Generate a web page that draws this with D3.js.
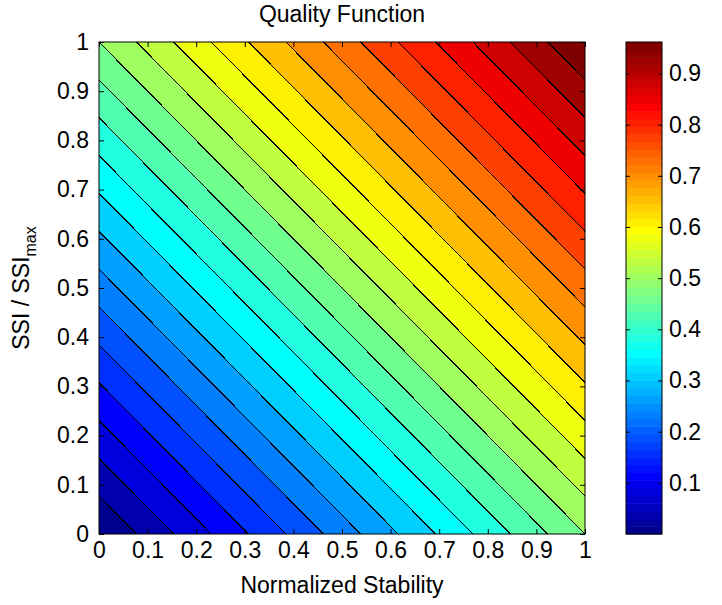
<!DOCTYPE html>
<html><head><meta charset="utf-8">
<script src="https://cdn.jsdelivr.net/npm/d3@7"></script>
<style>body{margin:0;background:#fff} text{font-family:"Liberation Sans",Arial,Helvetica,sans-serif}</style>
</head><body><svg id="chart" width="722" height="605"></svg>
<script>
// ---- data ----
const xGrid = [0, 0.5, 1];          // Normalized Stability samples
const yGrid = [0, 0.5, 1];          // SSI / SSImax samples
const qualityGrid = [               // rows: y = 0, 0.5, 1 ; cols: x = 0, 0.5, 1
  [0.00, 0.25, 0.50],
  [0.25, 0.50, 0.75],
  [0.50, 0.75, 1.00]
];
const contourLevels = [0.0385, 0.0769, 0.1154, 0.1538, 0.1923, 0.2308, 0.2692, 0.3077,
  0.3462, 0.3846, 0.4231, 0.4615, 0.5000, 0.5385, 0.5769, 0.6154, 0.6538, 0.6923,
  0.7308, 0.7692, 0.8077, 0.8462, 0.8846, 0.9231, 0.9615];
const colorLimits = [0, 0.9615];
const xTicks = [0, 0.1, 0.2, 0.3, 0.4, 0.5, 0.6, 0.7, 0.8, 0.9, 1];
const yTicks = [0, 0.1, 0.2, 0.3, 0.4, 0.5, 0.6, 0.7, 0.8, 0.9, 1];
const colorbarTicks = [0.1, 0.2, 0.3, 0.4, 0.5, 0.6, 0.7, 0.8, 0.9];
const titleText = "Quality Function";
const xLabelText = "Normalized Stability";

// ---- jet(64) colormap ----
function jet(m) {
  const n = Math.ceil(m / 4);
  const u = [];
  for (let i = 1; i <= n; i++) u.push(i / n);
  for (let i = 1; i < n; i++) u.push(1);
  for (let i = n; i >= 1; i--) u.push(i / n);
  const off = Math.ceil(n / 2) - (m % 4 === 1 ? 1 : 0);
  const J = Array.from({length: m}, () => [0, 0, 0]);
  const g = u.map((_, i) => off + i + 1);
  const r = g.map(v => v + n).filter(v => v <= m);
  const b = g.map(v => v - n).filter(v => v >= 1);
  const gg = g.filter(v => v <= m);
  r.forEach((idx, i) => J[idx - 1][0] = u[i]);
  gg.forEach((idx, i) => J[idx - 1][1] = u[i]);
  b.forEach((idx, i) => J[idx - 1][2] = u[u.length - b.length + i]);
  return J.map(c => d3.rgb(c[0] * 255, c[1] * 255, c[2] * 255).formatHex());
}
const cmap = jet(64);
function colorOf(v) {
  let idx = Math.floor((v - colorLimits[0]) / (colorLimits[1] - colorLimits[0]) * cmap.length);
  idx = Math.max(0, Math.min(cmap.length - 1, idx));
  return cmap[idx];
}

// ---- layout ----
const svg = d3.select("#chart");
const L = 99, R = 585, T = 42, B = 534;
const x = d3.scaleLinear().domain([0, 1]).range([L, R]);
const y = d3.scaleLinear().domain([0, 1]).range([B, T]);
const gx = d3.scaleLinear().domain([0, xGrid.length - 1]).range([xGrid[0], xGrid[xGrid.length - 1]]);
const gy = d3.scaleLinear().domain([0, yGrid.length - 1]).range([yGrid[0], yGrid[yGrid.length - 1]]);

svg.append("defs").append("clipPath").attr("id", "plotClip")
  .append("rect").attr("x", L).attr("y", T).attr("width", R - L).attr("height", B - T);

const plot = svg.append("g").attr("clip-path", "url(#plotClip)");
plot.append("rect").attr("x", L).attr("y", T).attr("width", R - L).attr("height", B - T)
  .attr("fill", colorOf(colorLimits[0]));

const contours = d3.contours().size([xGrid.length, yGrid.length]).thresholds(contourLevels)(qualityGrid.flat());
const proj = d3.geoTransform({
  point: function(cx, cy) { this.stream.point(x(gx(cx - 0.5)), y(gy(cy - 0.5))); }
});
const path = d3.geoPath(proj);
plot.selectAll("path.band").data(contours).join("path").attr("class", "band")
  .attr("d", path).attr("fill", d => colorOf(d.value)).attr("stroke", "none");
plot.selectAll("path.line").data(contours).join("path").attr("class", "line")
  .attr("d", path).attr("fill", "none").attr("stroke", "#000").attr("stroke-width", 1.1)
  .attr("shape-rendering", "crispEdges");

// ---- axes ----
const fmt = d3.format("~g");
const fs = 23;
svg.append("g").attr("transform", `translate(0,${B})`)
  .call(d3.axisBottom(x).tickValues(xTicks).tickFormat(fmt).tickSize(-5).tickSizeOuter(0).tickPadding(8));
svg.append("g").attr("transform", `translate(0,${T})`)
  .call(d3.axisTop(x).tickValues(xTicks).tickFormat("").tickSize(-5).tickSizeOuter(0));
svg.append("g").attr("transform", `translate(${L},0)`)
  .call(d3.axisLeft(y).tickValues(yTicks).tickFormat(fmt).tickSize(-5).tickSizeOuter(0).tickPadding(10));
svg.append("g").attr("transform", `translate(${R},0)`)
  .call(d3.axisRight(y).tickValues(yTicks).tickFormat("").tickSize(-5).tickSizeOuter(0));
svg.selectAll(".domain").remove();

// ---- colorbar ----
const CL = 626, CR = 662;
const cy = d3.scaleLinear().domain(colorLimits).range([B, T]);
const stripes = d3.range(cmap.length);
svg.append("g").selectAll("rect").data(stripes).join("rect")
  .attr("x", CL).attr("width", CR - CL)
  .attr("y", i => cy(colorLimits[0] + (i + 1) / cmap.length * (colorLimits[1] - colorLimits[0])))
  .attr("height", (B - T) / cmap.length + 0.5)
  .attr("fill", i => cmap[i]);
svg.append("g").attr("transform", `translate(${CR},0)`)
  .call(d3.axisRight(cy).tickValues(colorbarTicks).tickFormat(fmt).tickSize(-4).tickSizeOuter(0).tickPadding(7))
  .call(g => g.select(".domain").remove());
svg.append("g").attr("transform", `translate(${CL},0)`)
  .call(d3.axisLeft(cy).tickValues(colorbarTicks).tickFormat("").tickSize(-4).tickSizeOuter(0))
  .call(g => g.select(".domain").remove());
svg.selectAll(".tick text").attr("font-size", fs).attr("fill", "#000").attr("font-family", "Liberation Sans, Arial, sans-serif");
svg.selectAll(".tick line").attr("stroke", "#000");
svg.append("rect").attr("x", CL).attr("y", T).attr("width", CR - CL).attr("height", B - T)
  .attr("fill", "none").attr("stroke", "#000").attr("stroke-width", 1);
svg.append("rect").attr("x", L).attr("y", T).attr("width", R - L).attr("height", B - T)
  .attr("fill", "none").attr("stroke", "#000").attr("stroke-width", 1);

// ---- labels ----
svg.append("text").attr("x", (L + R) / 2).attr("y", 22).attr("text-anchor", "middle")
  .attr("font-size", fs).text(titleText);
svg.append("text").attr("x", (L + R) / 2).attr("y", 593).attr("text-anchor", "middle")
  .attr("font-size", fs).text(xLabelText);
const yl = svg.append("text").attr("transform", `translate(29,${(T + B) / 2}) rotate(-90)`)
  .attr("text-anchor", "middle").attr("font-size", fs);
yl.append("tspan").text("SSI / SSI");
yl.append("tspan").attr("font-size", 16).attr("dy", 7).text("max");
</script></body></html>
